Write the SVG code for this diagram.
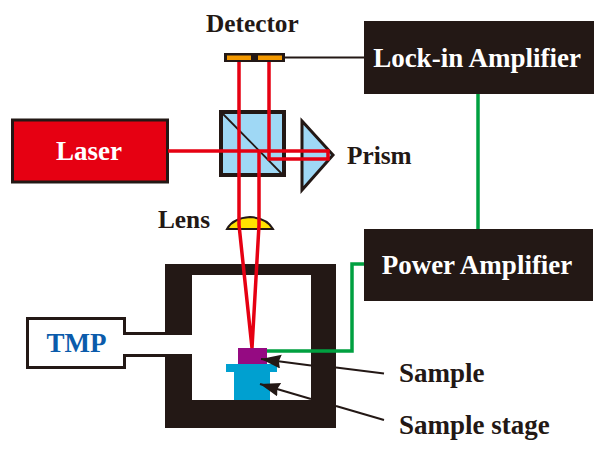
<svg xmlns="http://www.w3.org/2000/svg" width="600" height="452" viewBox="0 0 600 452">
<style>
text{font-family:"Liberation Serif","Times New Roman",serif;font-weight:bold;font-size:27px;fill:#231815}
.m{font-size:25.300px}
.w{fill:#fff}
.k{fill:#231815}
.b{fill:none;stroke:#e60012;stroke-width:3.500}
.g{fill:none;stroke:#00a040;stroke-width:3.500}
.l{fill:none;stroke:#231815;stroke-width:2}
</style>
<defs><marker id="a" markerUnits="userSpaceOnUse" markerWidth="22" markerHeight="16" refX="20" refY="7" orient="auto"><path d="M0 0L20 7L0 14L2 7Z" fill="#231815"/></marker></defs>
<rect width="600" height="452" fill="#fff"/>
<g id="laser"><rect x="12.500" y="120" width="155" height="62" fill="#e60012" stroke="#231815" stroke-width="3"/><text class="w" x="89" y="160" text-anchor="middle">Laser</text></g>
<g id="chamber"><path class="k" fill-rule="evenodd" d="M165 264H336V428H165V354H192V400H311V275H192V335H165Z"/></g>
<g id="tmp"><path d="M165 333.500H124.500V318.500H27.500V367.500H124.500V355.500H165" fill="#fff" stroke="#231815" stroke-width="3"/><text x="76.500" y="352" text-anchor="middle" style="fill:#0b5bab">TMP</text></g>
<g id="beamsplitter"><rect x="221" y="112" width="63" height="63" fill="#9fd8f5" stroke="#231815" stroke-width="4"/><path d="M222 113L282 174" stroke="#231815" stroke-width="1.800"/></g>
<g id="prism"><path d="M302 121L333 155L302 190Z" fill="#9fd8f5" stroke="#231815" stroke-width="3"/><text class="m" x="347" y="164">Prism</text></g>
<g id="lens"><path d="M227 229Q233 218 250 217Q267 218 273 229Z" fill="#ffe100" stroke="#231815" stroke-width="2"/><text class="m" x="158" y="228">Lens</text></g>
<g id="detector"><rect x="224" y="53" width="61" height="9" class="k"/><rect x="227" y="55.500" width="24" height="4.500" fill="#f39800"/><rect x="258" y="55.500" width="24" height="4.500" fill="#f39800"/><text class="m" x="206" y="32">Detector</text></g>
<g id="lockin"><rect x="364" y="21" width="230" height="73" class="k"/><text class="w" x="477" y="67" text-anchor="middle">Lock-in Amplifier</text></g>
<g id="power"><rect x="364" y="229" width="229" height="72" class="k"/><text class="w" x="477" y="274" text-anchor="middle">Power Amplifier</text></g>
<g id="sample"><rect x="238" y="348" width="29" height="17" fill="#950a82"/><text x="399" y="382">Sample</text></g>
<g id="stage"><path d="M226 364H277V372H270V400H234V372H226Z" fill="#00a0d0"/><text x="399" y="434">Sample stage</text></g>
<g id="connectors">
<path class="b" d="M168 151H328V159H269V62"/>
<path class="b" d="M239 62V225L252 348L259 225V151"/>
<path class="g" d="M267 351H352V264H364"/>
<path class="g" d="M478 94V229"/>
<path d="M285 57.500H364" stroke="#231815" stroke-width="2"/>
<path class="l" d="M311 365.500L261 359" marker-end="url(#a)"/>
<path class="l" d="M336 367.500L384 373.500"/>
<path class="l" d="M311 399L260 384" marker-end="url(#a)"/>
<path class="l" d="M336 406L384 420"/>
</g>
</svg>
